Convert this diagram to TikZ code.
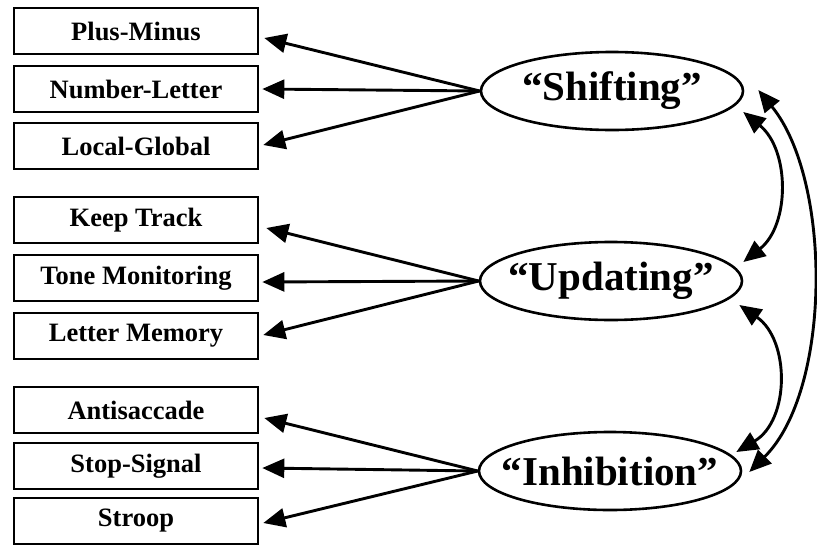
\documentclass[tikz,border=0pt]{standalone}
\usepackage{fontspec}
\setmainfont{Liberation Serif}
\usetikzlibrary{arrows.meta,shapes.geometric}
\begin{document}
\begin{tikzpicture}[x=1pt,y=-1pt,
  box/.style={draw,line width=2.6pt,minimum width=244pt,minimum height=46pt,inner sep=0pt,
    font=\fontsize{26.5}{26.5}\selectfont\bfseries},
  lat/.style={draw,ellipse,line width=2.6pt,minimum width=262pt,minimum height=78pt,inner sep=0pt},
  latlabel/.style={inner sep=0pt,font=\fontsize{41}{41}\selectfont\bfseries},
  arr/.style={line width=2.9pt,-{Triangle[length=22pt,width=19pt]}},
  darr/.style={line width=2.9pt,{Triangle[length=22pt,width=19pt]}-{Triangle[length=22pt,width=19pt]}}]
\useasboundingbox (0,0) rectangle (817,544);
% indicator boxes
\node[box] (pm) at (136,31) {Plus-Minus};
\node[box] (nl) at (136,89) {Number-Letter};
\node[box] (lg) at (136,146) {Local-Global};
\node[box] (kt) at (136,220) {Keep Track};
\node[box] (tm) at (136,278) {Tone Monitoring};
\node[box] (lm) at (136,336) {Letter Memory};
\node[box] (as) at (136,410) {Antisaccade};
\node[box] (ss) at (136,466) {Stop-Signal};
\node[box] (st) at (136,521) {Stroop};
% latent variables
\node[lat] (sh) at (612,91) {};
\node[lat] (up) at (611,281) {};
\node[lat] (in) at (610,471) {};
\node[latlabel] (shl) at (sh) {“Shifting”};
\node[latlabel] (upl) at (up) {“Updating”};
\node[latlabel] (inl) at (in) {“Inhibition”};
% loadings
\draw[arr] (sh.west) -- ([xshift=5pt,yshift=-7pt]pm.east);
\draw[arr] (sh.west) -- ([xshift=3pt]nl.east);
\draw[arr] (sh.west) -- ([xshift=4pt,yshift=1pt]lg.east);
\draw[arr] (up.west) -- ([xshift=7pt,yshift=-8pt]kt.east);
\draw[arr] (up.west) -- ([xshift=3pt,yshift=-4pt]tm.east);
\draw[arr] (up.west) -- ([xshift=4pt,yshift=1pt]lm.east);
\draw[arr] (in.west) -- ([xshift=5pt,yshift=-8pt]as.east);
\draw[arr] (in.west) -- ([xshift=3pt,yshift=-2pt]ss.east);
\draw[arr] (in.west) -- ([xshift=4pt,yshift=-2pt]st.east);
% correlations
\draw[darr] ([shift={(-1,21)}]sh.east) .. controls (790,150) and (790,225) .. ([shift={(0,-19)}]up.east);
\draw[darr] ([shift={(-4,24)}]up.east) .. controls (790,340) and (790,420) .. ([shift={(-6,-19)}]in.east);
\draw[darr] ([shift={(14,-1)}]sh.east) .. controls (832,180) and (832,390) .. ([shift={(7,1)}]in.east);
\end{tikzpicture}
\end{document}
